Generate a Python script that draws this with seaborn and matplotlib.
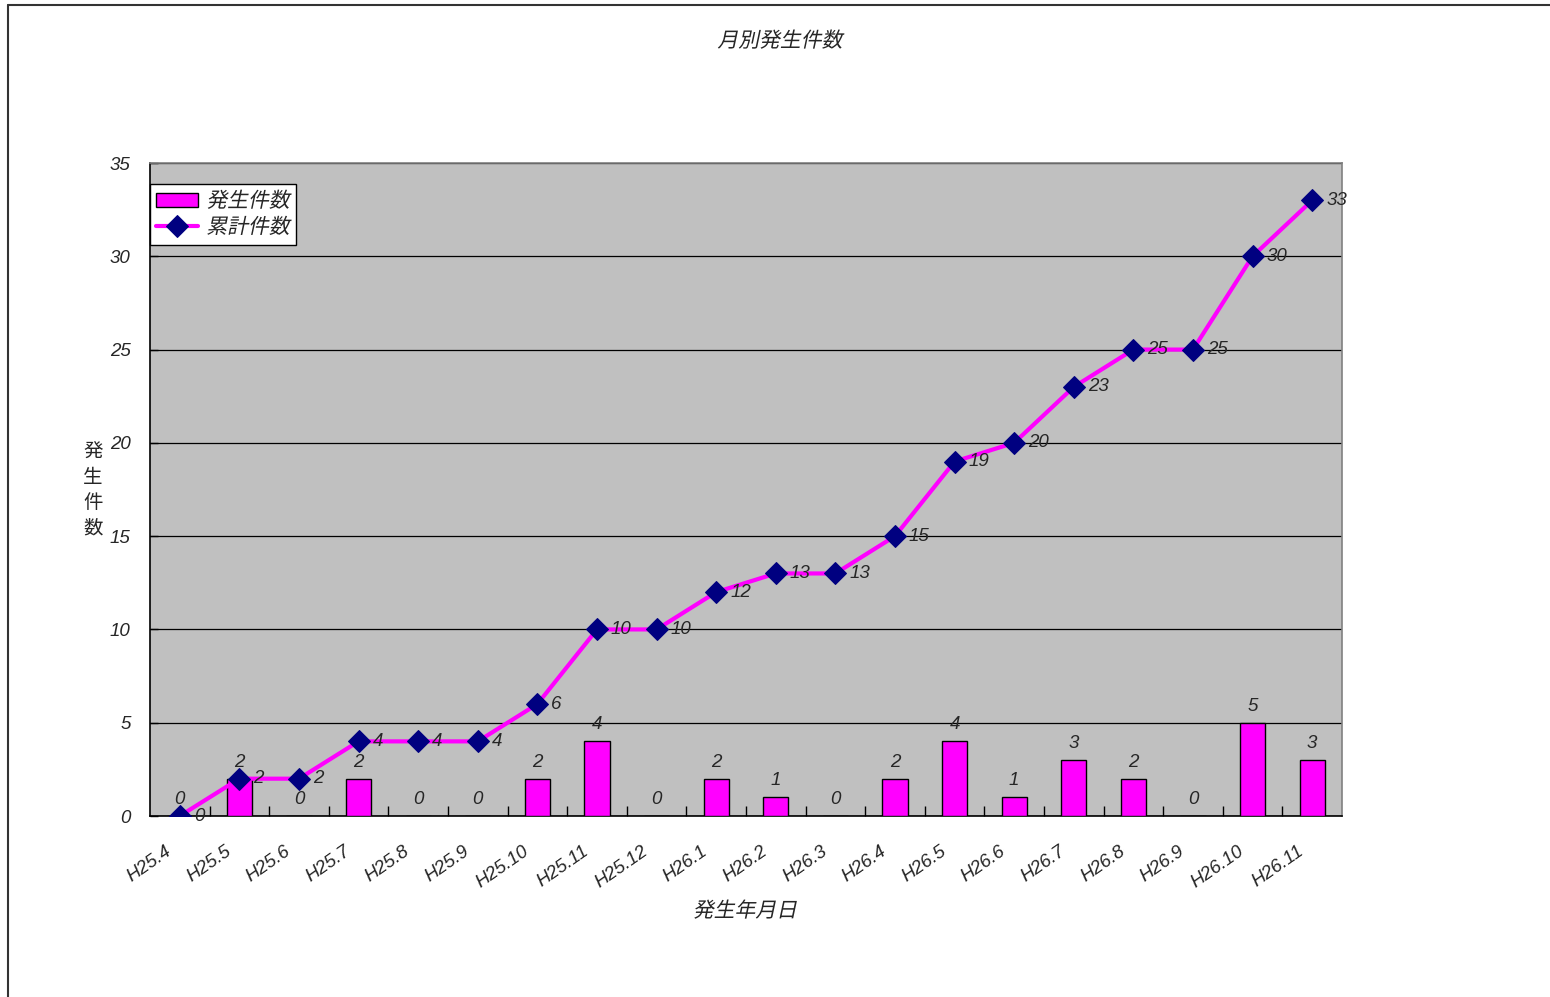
import numpy as np
import pandas as pd
import matplotlib
matplotlib.use("Agg")
import matplotlib.pyplot as plt
from matplotlib.lines import Line2D
from matplotlib.transforms import Affine2D, ScaledTranslation
from matplotlib import patheffects
import seaborn as sns

# Monthly incident counts (H25.4 - H26.11)
months = ["H25.4", "H25.5", "H25.6", "H25.7", "H25.8", "H25.9", "H25.10",
          "H25.11", "H25.12", "H26.1", "H26.2", "H26.3", "H26.4", "H26.5",
          "H26.6", "H26.7", "H26.8", "H26.9", "H26.10", "H26.11"]
monthly = [0, 2, 0, 2, 0, 0, 2, 4, 0, 2, 1, 0, 2, 4, 1, 3, 2, 0, 5, 3]
cumulative = [0, 2, 2, 4, 4, 4, 6, 10, 10, 12, 13, 13, 15, 19, 20, 23, 25, 25, 30, 33]

title = "月別発生件数"
xlabel = "発生年月日"
ylabel = "発生件数"
bar_label = "発生件数"
line_label = "累計件数"

sns.set_theme(style="white")
FONTS = ["Liberation Sans", "Noto Sans CJK JP", "DejaVu Sans"]
CJK = ["Noto Sans CJK JP", "DejaVu Sans"]
plt.rcParams["font.family"] = FONTS


class Oblique(patheffects.AbstractPathEffect):
    """Slant glyph outlines to give an italic look to fonts without an italic face."""

    def __init__(self, angle=12):
        super().__init__()
        self._skew = Affine2D().skew_deg(angle, 0)

    def draw_path(self, renderer, gc, tpath, affine, rgbFace=None):
        renderer.draw_path(gc, tpath, self._skew + affine, rgbFace)


SLANT = [Oblique(12)]

MAGENTA = "#FF00FF"
NAVY = "#000080"
PANEL = "#C0C0C0"

df = pd.DataFrame({"month": months, "monthly": monthly, "cumulative": cumulative})
pos = np.arange(len(months))

fig = plt.figure(figsize=(15.5, 9.97), dpi=100)
ax = fig.add_axes([150 / 1550, 181 / 997, 1192 / 1550, 653 / 997])
ax.set_facecolor(PANEL)

sns.barplot(data=df, x="month", y="monthly", color=MAGENTA, saturation=1,
            width=0.42, edgecolor="black", linewidth=1.0, ax=ax,
            label=bar_label, zorder=3)

sns.lineplot(x=pos, y=df["cumulative"], sort=False, color=MAGENTA,
             linewidth=3.0, marker="D", markersize=11,
             markerfacecolor=NAVY, markeredgecolor=NAVY, ax=ax,
             label=line_label, zorder=4)

ax.set_xlim(-0.5, len(months) - 0.5)
ax.set_ylim(0, 35)
ax.set_yticks(np.arange(0, 36, 5))
ax.yaxis.grid(True, color="black", linewidth=0.9)
ax.xaxis.grid(False)
ax.set_axisbelow(True)

tick_font = dict(family=FONTS, style="italic", size=13.5)
ax.set_yticklabels([str(v) for v in range(0, 36, 5)], fontdict=tick_font)
ax.tick_params(axis="y", direction="in", length=6, width=1, color="black", pad=14, left=True)

ax.set_xticks(pos)
ax.set_xticklabels(months, rotation=35, ha="right", va="top",
                   rotation_mode="anchor", fontdict=tick_font)
ax.tick_params(axis="x", which="major", length=0, pad=19)
shift = ScaledTranslation(-15 / 100, 0, fig.dpi_scale_trans)
for lab in ax.get_xticklabels():
    lab.set_transform(lab.get_transform() + shift)
ax.set_xticks(np.arange(0.5, len(months) - 0.5, 1), minor=True)
ax.tick_params(axis="x", which="minor", direction="in", length=7, width=1, color="black", bottom=True)

for side in ("top", "right"):
    ax.spines[side].set_color("#808080")
    ax.spines[side].set_linewidth(1.2)
for side in ("left", "bottom"):
    ax.spines[side].set_color("black")
    ax.spines[side].set_linewidth(1.2)

ax.set_xlabel("")
ax.set_ylabel("")
fig.text(745 / 1550, 1 - 911 / 997, xlabel, ha="center", va="center",
         fontsize=15, family=CJK, path_effects=SLANT)
fig.text(93 / 1550, 1 - 490 / 997, "\n".join(ylabel), ha="center", va="center",
         fontsize=14, family=CJK, linespacing=1.28)
fig.text(780 / 1550, 1 - 41 / 997, title, ha="center", va="center",
         fontsize=15, family=CJK, path_effects=SLANT)

# value labels
for x, v in zip(pos, monthly):
    ax.annotate(str(v), (x, v), xytext=(0, 12), textcoords="offset points",
                ha="center", va="center", fontsize=13.5, style="italic", family=FONTS, zorder=5)
for x, v in zip(pos, cumulative):
    ax.annotate(str(v), (x, v), xytext=(10, 0), textcoords="offset points",
                ha="left", va="center", fontsize=13.5, style="italic", family=FONTS, zorder=5)

handles, labels = ax.get_legend_handles_labels()
order = [labels.index(bar_label), labels.index(line_label)]
leg = ax.legend([handles[i] for i in order], [labels[i] for i in order],
                loc="upper left", bbox_to_anchor=(0, 0.968), borderaxespad=0,
                frameon=True, fancybox=False, edgecolor="black", framealpha=1,
                prop=dict(family=CJK, size=15),
                handlelength=2.0, handletextpad=0.4, borderpad=0.3, labelspacing=0.2)
leg.get_frame().set_linewidth(1.0)
leg.set_zorder(10)
for t in leg.get_texts():
    t.set_path_effects(SLANT)

# outer frame (left and top edges)
fig.add_artist(Line2D([8 / 1550, 8 / 1550], [0, 1 - 5 / 997], color="#333333", linewidth=1.5))
fig.add_artist(Line2D([8 / 1550, 1], [1 - 5 / 997, 1 - 5 / 997], color="#333333", linewidth=1.5))

fig.savefig("out.png", dpi=100)
